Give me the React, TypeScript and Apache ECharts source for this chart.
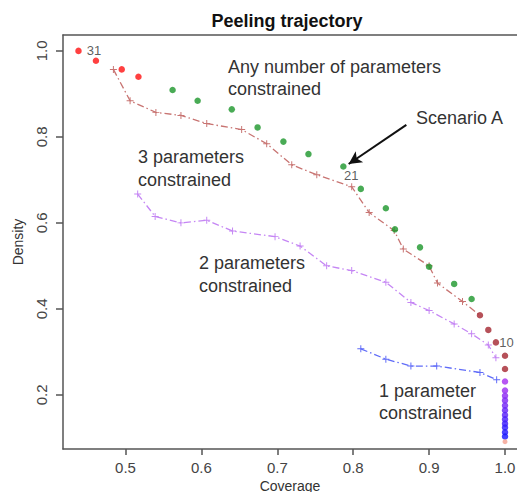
import React, { useEffect, useRef } from "react";
import * as echarts from "echarts";

// ---- data ----
const xTicks = [0.5, 0.6, 0.7, 0.8, 0.9, 1.0];
const yTicks = [0.2, 0.4, 0.6, 0.8, 1.0];

// peeling trajectory points, grouped by colour
const redCoverage = [0.438, 0.461, 0.495, 0.517];
const redDensity = [1.0, 0.977, 0.957, 0.94];

const greenCoverage = [0.562, 0.595, 0.64, 0.674, 0.708, 0.741, 0.787, 0.81, 0.843, 0.855, 0.888, 0.9, 0.933, 0.956];
const greenDensity = [0.909, 0.884, 0.864, 0.822, 0.789, 0.76, 0.731, 0.679, 0.634, 0.585, 0.543, 0.498, 0.458, 0.423];

const darkRedCoverage = [0.967, 0.978, 0.988, 1.0, 1.0];
const darkRedDensity = [0.385, 0.351, 0.322, 0.291, 0.26];

const columnCoverage = [1.0, 1.0, 1.0, 1.0, 1.0, 1.0, 1.0, 1.0, 1.0, 1.0, 1.0, 1.0];
const columnDensity = [0.231, 0.21, 0.198, 0.187, 0.175, 0.164, 0.153, 0.143, 0.133, 0.124, 0.113, 0.103];

const lastCoverage = [1.0];
const lastDensity = [0.091];

// constrained-parameter trajectories
const threeParamCoverage = [0.484, 0.506, 0.54, 0.573, 0.607, 0.653, 0.686, 0.719, 0.752, 0.798, 0.821, 0.854, 0.866, 0.9, 0.911, 0.944, 0.967];
const threeParamDensity = [0.957, 0.884, 0.857, 0.85, 0.831, 0.817, 0.784, 0.735, 0.712, 0.684, 0.624, 0.582, 0.539, 0.5, 0.46, 0.417, 0.385];

const twoParamCoverage = [0.516, 0.539, 0.573, 0.607, 0.641, 0.697, 0.73, 0.765, 0.798, 0.843, 0.876, 0.9, 0.933, 0.956, 0.978, 0.988];
const twoParamDensity = [0.667, 0.615, 0.6, 0.606, 0.581, 0.568, 0.546, 0.5, 0.489, 0.462, 0.415, 0.396, 0.365, 0.342, 0.316, 0.286];

const oneParamCoverage = [0.81, 0.843, 0.876, 0.91, 0.967, 0.989];
const oneParamDensity = [0.307, 0.283, 0.267, 0.267, 0.252, 0.235];

// point labels (box indices)
const pointLabels = [
  { group: "red", index: 0, text: "31" },
  { group: "green", index: 6, text: "21" },
  { group: "darkRed", index: 2, text: "10" },
];

// Scenario A arrow (data coordinates)
const arrowFrom = [0.87, 0.828];
const arrowTo = [0.794, 0.737];

const FONT = "'Liberation Sans', Arial, Helvetica, sans-serif";
const PLUS = "path://M4.3,0h1.4v4.3h4.3v1.4h-4.3v4.3h-1.4v-4.3h-4.3v-1.4h4.3z";

function zip(xs: number[], ys: number[]) {
  return xs.map((x, i) => [x, ys[i]]);
}

function withLabels(group: string, pts: number[][]) {
  return pts.map((p, i) => {
    const lab = pointLabels.find((l) => l.group === group && l.index === i);
    if (!lab) return p;
    const pos: any =
      lab.text === "21"
        ? { position: "bottom", distance: 0, offset: [8, -1] }
        : { position: "right", distance: lab.text === "31" ? 5 : 0 };
    return {
      value: p,
      label: {
        show: true,
        formatter: lab.text,
        fontSize: 13,
        color: "#333",
        fontFamily: FONT,
        ...pos,
      },
    };
  });
}

function lineSeries(name: string, xs: number[], ys: number[], color: string, lastNoSymbol: boolean) {
  const data: any[] = zip(xs, ys);
  if (lastNoSymbol) {
    data[data.length - 1] = { value: data[data.length - 1], symbol: "none" };
  }
  return {
    name,
    type: "line",
    data,
    symbol: PLUS,
    symbolSize: 7,
    itemStyle: { color },
    lineStyle: { color, width: 1.3, type: [7, 3, 1.5, 3] },
    z: 2,
    silent: true,
  };
}

function dotSeries(name: string, data: any[], color: any, extra: any = {}) {
  return {
    name,
    type: "scatter",
    data,
    symbol: "circle",
    symbolSize: 6.5,
    itemStyle: { color },
    z: 5,
    silent: true,
    ...extra,
  };
}

export default function App() {
  const ref = useRef<HTMLDivElement>(null);

  useEffect(() => {
    if (!ref.current) return;
    const chart = echarts.init(ref.current, null, { renderer: "svg" });
    const n = columnDensity.length;
    const columnColor = (p: any) => {
      const t = n > 1 ? p.dataIndex / (n - 1) : 0;
      const r = Math.round(165 * (1 - t) + 20 * t);
      const g = Math.round(45 * (1 - t) + 20 * t);
      const b = Math.round(240 * (1 - t) + 255 * t);
      return `rgb(${r},${g},${b})`;
    };

    const xMin = 0.4176;
    const xMax = 1.0158;
    const yMin = 0.074;
    const yMax = 1.037;

    const axisLineStyle = { color: "#555", width: 1.5 };

    chart.setOption({
      animation: false,
      backgroundColor: "#fff",
      grid: {
        left: 63,
        top: 35,
        right: 0,
        bottom: 43,
        containLabel: false,
        outerBoundsMode: "none",
      },
      xAxis: [
        {
          type: "value",
          min: xMin,
          max: xMax,
          position: "bottom",
          axisLine: { show: true, onZero: false, lineStyle: axisLineStyle },
          axisTick: { show: true, length: 6, lineStyle: axisLineStyle, customValues: xTicks },
          axisLabel: {
            show: true,
            customValues: xTicks,
            formatter: (v: number) => v.toFixed(1),
            fontSize: 15,
            color: "#444",
            fontFamily: FONT,
            margin: 11,
          },
          splitLine: { show: false },
          name: "Coverage",
          nameLocation: "middle",
          nameGap: 30,
          nameMoveOverlap: false,
          nameTextStyle: { fontSize: 14, color: "#333", fontFamily: FONT },
        },
        {
          type: "value",
          min: xMin,
          max: xMax,
          position: "top",
          axisLine: { show: true, onZero: false, lineStyle: axisLineStyle },
          axisTick: { show: false },
          axisLabel: { show: false },
          splitLine: { show: false },
        },
      ],
      yAxis: {
        type: "value",
        min: yMin,
        max: yMax,
        axisLine: { show: true, onZero: false, lineStyle: axisLineStyle },
        axisTick: { show: true, length: 7, lineStyle: axisLineStyle, customValues: yTicks },
        axisLabel: {
          show: true,
          customValues: yTicks,
          rotate: 90,
          formatter: (v: number) => v.toFixed(1),
          fontSize: 15,
          color: "#444",
          fontFamily: FONT,
          margin: 14,
        },
        splitLine: { show: false },
        name: "Density",
        nameLocation: "middle",
        nameGap: 38,
        nameMoveOverlap: false,
        nameTextStyle: { fontSize: 14, color: "#333", fontFamily: FONT },
      },
      series: [
        lineSeries("3 parameters", threeParamCoverage, threeParamDensity, "#c87472", true),
        lineSeries("2 parameters", twoParamCoverage, twoParamDensity, "#c586f4", false),
        lineSeries("1 parameter", oneParamCoverage, oneParamDensity, "#5f6bf8", false),
        dotSeries("red", withLabels("red", zip(redCoverage, redDensity)), "#ff1010"),
        dotSeries("green", withLabels("green", zip(greenCoverage, greenDensity)), "#1c962a", {
          markLine: {
            silent: true,
            symbol: ["none", "arrow"],
            symbolSize: [10, 13],
            label: { show: false },
            lineStyle: { color: "#111", width: 2, type: "solid" },
            data: [[{ coord: arrowFrom }, { coord: arrowTo }]],
          },
        }),
        dotSeries("darkRed", withLabels("darkRed", zip(darkRedCoverage, darkRedDensity)), "#a42630"),
        dotSeries("column", zip(columnCoverage, columnDensity), columnColor),
        dotSeries("last", zip(lastCoverage, lastDensity), "#f4a090", { symbolSize: 5 }),
      ],
      graphic: [
        {
          type: "text",
          x: 287,
          y: 21,
          style: {
            text: "Peeling trajectory",
            font: `bold 18px ${FONT}`,
            fill: "#111",
            align: "center",
            verticalAlign: "middle",
          },
        },
        {
          type: "text",
          x: 228,
          y: 78,
          style: {
            text: "Any number of parameters\nconstrained",
            font: `18px ${FONT}`,
            lineHeight: 22.6,
            fill: "#333",
            align: "left",
            verticalAlign: "middle",
          },
        },
        {
          type: "text",
          x: 416,
          y: 118,
          style: {
            text: "Scenario A",
            font: `18px ${FONT}`,
            fill: "#333",
            align: "left",
            verticalAlign: "middle",
          },
        },
        {
          type: "text",
          x: 138,
          y: 168.3,
          style: {
            text: "3 parameters\nconstrained",
            font: `18px ${FONT}`,
            lineHeight: 23.3,
            fill: "#333",
            align: "left",
            verticalAlign: "middle",
          },
        },
        {
          type: "text",
          x: 199,
          y: 274.7,
          style: {
            text: "2 parameters\nconstrained",
            font: `18px ${FONT}`,
            lineHeight: 22.7,
            fill: "#333",
            align: "left",
            verticalAlign: "middle",
          },
        },
        {
          type: "text",
          x: 379,
          y: 401.7,
          style: {
            text: "1 parameter\nconstrained",
            font: `18px ${FONT}`,
            lineHeight: 22,
            fill: "#333",
            align: "left",
            verticalAlign: "middle",
          },
        },
      ],
    });
    return () => chart.dispose();
  }, []);

  return (
    <div
      ref={ref}
      style={{ position: "fixed", left: 0, top: 0, width: 517, height: 492 }}
    />
  );
}
